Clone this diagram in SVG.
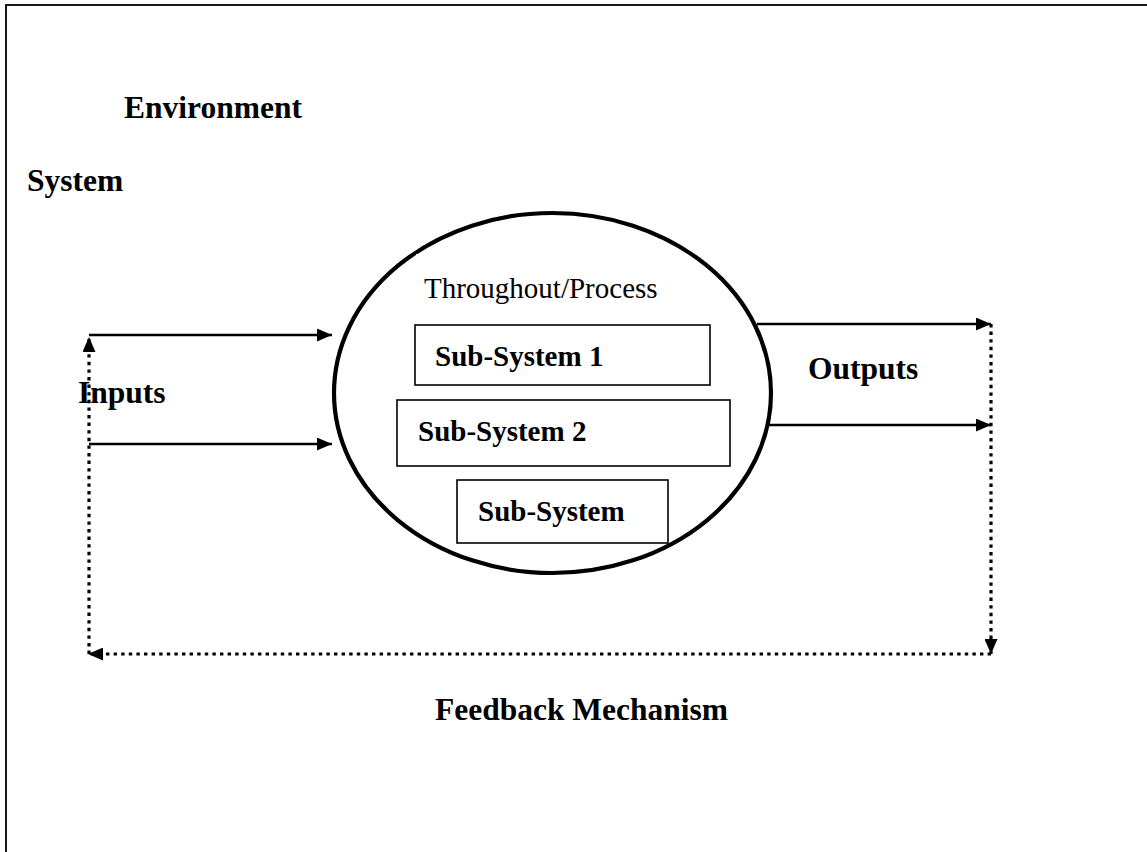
<svg xmlns="http://www.w3.org/2000/svg" width="1147" height="852" viewBox="0 0 1147 852">
<style>
  .lbl { font-family: "Liberation Serif", "Times New Roman", serif; font-weight: bold; font-size: 31.5px; fill: #000; }
  .sub { font-family: "Liberation Serif", "Times New Roman", serif; font-weight: bold; font-size: 29px; fill: #000; }
  .proc { font-family: "Liberation Serif", "Times New Roman", serif; font-size: 29px; fill: #000; }
  .box { fill: #fff; stroke: #000; stroke-width: 1.6; }
  .solid { fill: none; stroke: #000; stroke-width: 2.6; marker-end: url(#arrow); }
  .dotted { fill: none; stroke: #000; stroke-width: 3.2; stroke-dasharray: 3.4 4.2; marker-end: url(#arrow); }
</style>
<defs>
  <marker id="arrow" markerUnits="userSpaceOnUse" viewBox="0 0 15 13" markerWidth="15" markerHeight="13" refX="15" refY="6.5" orient="auto">
    <path d="M0,0 L15,6.5 L0,13 z" fill="#000"/>
  </marker>
</defs>
<rect width="1147" height="852" fill="#fff"/>
<g id="environment">
  <rect x="6" y="5" width="1160" height="880" fill="none" stroke="#000" stroke-width="1.8"/>
  <text class="lbl" x="124" y="118">Environment</text>
</g>
<g id="system-label">
  <text class="lbl" x="27" y="191">System</text>
</g>
<g id="subsystem1">
  <rect class="box" x="415" y="325" width="295" height="60"/>
  <text class="sub" x="435" y="366">Sub-System 1</text>
</g>
<g id="subsystem2">
  <rect class="box" x="397" y="400" width="333" height="66"/>
  <text class="sub" x="418" y="441">Sub-System 2</text>
</g>
<g id="subsystem3">
  <rect class="box" x="457" y="480" width="211" height="63"/>
  <text class="sub" x="478" y="521">Sub-System</text>
</g>
<g id="process">
  <ellipse cx="552.5" cy="393" rx="218.5" ry="180" fill="none" stroke="#000" stroke-width="4.2"/>
  <rect x="416" y="254" width="272" height="20" fill="#fff"/>
  <text class="proc" x="424" y="298">Throughout/Process</text>
</g>
<g id="connectors">
  <line class="solid" x1="89" y1="335" x2="332" y2="335"/>
  <line class="solid" x1="89" y1="444" x2="332" y2="444"/>
  <line class="solid" x1="757" y1="324" x2="991" y2="324"/>
  <line class="solid" x1="768" y1="425" x2="991" y2="425"/>
  <line class="dotted" x1="991" y1="324" x2="991" y2="654"/>
  <line class="dotted" x1="991" y1="654" x2="88" y2="654"/>
  <line class="dotted" x1="89" y1="654" x2="89" y2="337"/>
</g>
<g id="inputs-label">
  <text class="lbl" x="78" y="403">Inputs</text>
</g>
<g id="outputs-label">
  <text class="lbl" x="808" y="379">Outputs</text>
</g>
<g id="feedback-label">
  <text class="lbl" x="435" y="720">Feedback Mechanism</text>
</g>
</svg>
